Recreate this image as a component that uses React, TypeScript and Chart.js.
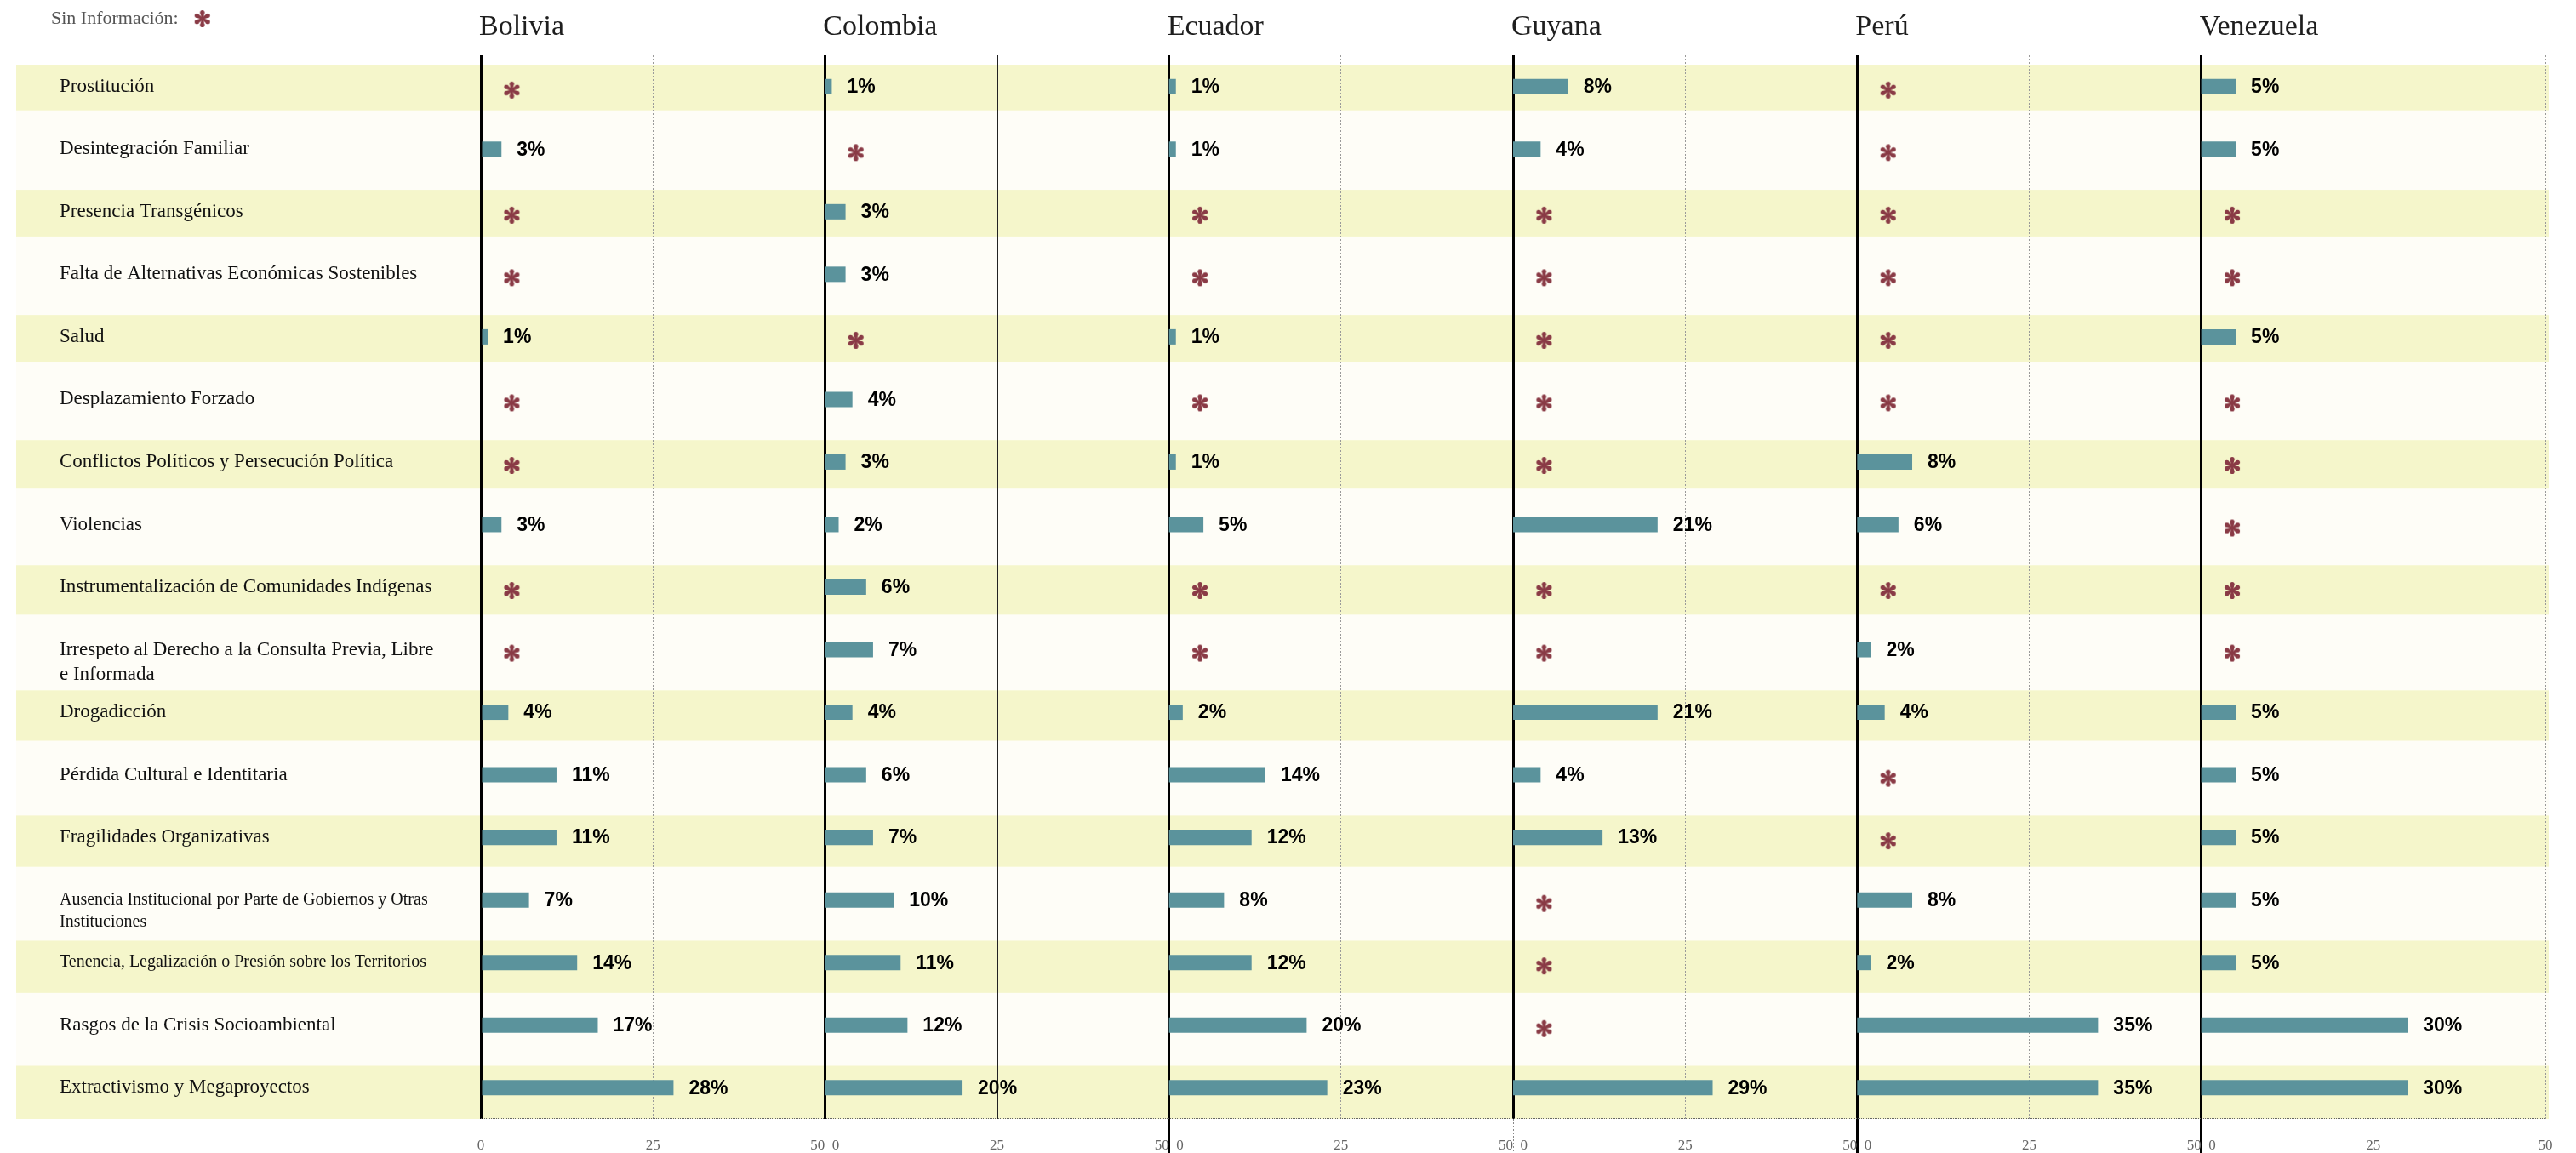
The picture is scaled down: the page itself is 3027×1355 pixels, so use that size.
import React, { useEffect, useRef } from 'react';
import { Chart, registerables } from 'chart.js';

Chart.register(...registerables);

// ---------- data ----------
const COUNTRIES = ['Bolivia', 'Colombia', 'Ecuador', 'Guyana', 'Perú', 'Venezuela'];

// multi-line labels start with an empty line so the first text line sits on the row centre
const CATEGORIES: (string | string[])[] = [
  'Prostitución',
  'Desintegración Familiar',
  'Presencia Transgénicos',
  'Falta de Alternativas Económicas Sostenibles',
  'Salud',
  'Desplazamiento Forzado',
  'Conflictos Políticos y Persecución Política',
  'Violencias',
  'Instrumentalización de Comunidades Indígenas',
  ['', 'Irrespeto al Derecho a la Consulta Previa, Libre', 'e Informada'],
  'Drogadicción',
  'Pérdida Cultural e Identitaria',
  'Fragilidades Organizativas',
  ['', 'Ausencia Institucional por Parte de Gobiernos y Otras', 'Instituciones'],
  'Tenencia, Legalización o Presión sobre los Territorios',
  'Rasgos de la Crisis Socioambiental',
  'Extractivismo y Megaproyectos',
];

// null = "Sin Información" (*)
const BOLIVIA = [null, 3, null, null, 1, null, null, 3, null, null, 4, 11, 11, 7, 14, 17, 28];
const COLOMBIA = [1, null, 3, 3, null, 4, 3, 2, 6, 7, 4, 6, 7, 10, 11, 12, 20];
const ECUADOR = [1, 1, null, null, 1, null, 1, 5, null, null, 2, 14, 12, 8, 12, 20, 23];
const GUYANA = [8, 4, null, null, null, null, null, 21, null, null, 21, 4, 13, null, null, null, 29];
const PERU = [null, null, null, null, null, null, 8, 6, null, 2, 4, null, null, 8, 2, 35, 35];
const VENEZUELA = [5, 5, null, null, 5, null, null, null, null, null, 5, 5, 5, 5, 5, 30, 30];

const SERIES: (number | null)[][] = [BOLIVIA, COLOMBIA, ECUADOR, GUYANA, PERU, VENEZUELA];

const PANEL_RANGE = 50; // each country panel spans 0..50
const TICK_STEP = 25;
const NO_INFO_MARK_AT = 4.5; // where the * sits inside a panel
const LEGEND_TEXT = 'Sin Información:';
const SMALL_FONT_ROWS = [13, 14];

// ---------- styles ----------
const SERIF = '"Liberation Serif", "DejaVu Serif", serif';
const SANS = '"Liberation Sans", Arial, sans-serif';
const BAR_COLOR = '#5B939C';
const YELLOW = '#F5F6CB';
const CREAM = '#FEFDF7';
const MARK_COLOR = '#8A3B46';

function makeAsterisk(): HTMLCanvasElement {
  const c = document.createElement('canvas');
  c.width = 26;
  c.height = 34;
  const g = c.getContext('2d')!;
  g.fillStyle = MARK_COLOR;
  const cx = 13;
  const cy = 21;
  const reach = 7.4; // centre of the rounded end
  const endR = 2.6;
  const stem = 1.0;
  for (let k = 0; k < 6; k++) {
    const a = Math.PI / 2 + (k * Math.PI) / 3;
    const dx = Math.cos(a);
    const dy = -Math.sin(a);
    const px = -dy;
    const py = dx;
    const ex = cx + dx * reach;
    const ey = cy + dy * reach;
    g.beginPath();
    g.moveTo(cx + px * stem, cy + py * stem);
    g.lineTo(ex + px * endR, ey + py * endR);
    g.lineTo(ex - px * endR, ey - py * endR);
    g.lineTo(cx - px * stem, cy - py * stem);
    g.closePath();
    g.fill();
    g.beginPath();
    g.arc(ex, ey, endR, 0, Math.PI * 2);
    g.fill();
  }
  g.beginPath();
  g.arc(cx, cy, 1.8, 0, Math.PI * 2);
  g.fill();
  return c;
}

export default function App() {
  const ref = useRef<HTMLCanvasElement>(null);

  useEffect(() => {
    const canvas = ref.current;
    if (!canvas) return;
    const star = makeAsterisk();

    const barSets = SERIES.map((vals, i) => ({
      type: 'bar' as const,
      label: COUNTRIES[i],
      data: vals.map((v) => (v == null ? null : [i * PANEL_RANGE, i * PANEL_RANGE + v])),
      backgroundColor: BAR_COLOR,
      borderWidth: 0,
      grouped: false,
      barPercentage: 0.245,
      categoryPercentage: 1,
      order: 1,
    }));

    const starSets = SERIES.map((vals, i) => ({
      type: 'line' as const,
      label: COUNTRIES[i] + ' – sin información',
      data: vals.map((v) => (v == null ? i * PANEL_RANGE + NO_INFO_MARK_AT : null)),
      showLine: false,
      pointStyle: star,
      pointRadius: 5,
      pointHoverRadius: 5,
      order: 0,
    }));

    const maxX = PANEL_RANGE * COUNTRIES.length;
    const isZero = (v: number) => v % PANEL_RANGE === 0 && v < maxX;

    const decor = {
      id: 'decor',
      beforeDraw(chart: any) {
        const { ctx, chartArea, scales } = chart;
        const y = scales.y;
        const n = CATEGORIES.length;
        const step = y.getPixelForValue(1) - y.getPixelForValue(0);
        const left = 19;
        const right = chartArea.right + 4;
        const firstTop = y.getPixelForValue(0) - 0.35 * step;
        ctx.save();
        ctx.fillStyle = CREAM;
        ctx.fillRect(left, firstTop, right - left, chartArea.bottom - firstTop);
        ctx.fillStyle = YELLOW;
        for (let j = 0; j < n; j += 2) {
          const c = y.getPixelForValue(j);
          const top = c - 0.35 * step;
          const bottom = Math.min(c + (0.38 + (0.12 * j) / (n - 1)) * step, chartArea.bottom);
          ctx.fillRect(left, top, right - left, bottom - top);
        }
        ctx.restore();
      },
      beforeDatasetsDraw(chart: any) {
        const { ctx, chartArea } = chart;
        ctx.save();
        ctx.strokeStyle = '#666';
        ctx.lineWidth = 1;
        ctx.setLineDash([1, 1]);
        ctx.beginPath();
        ctx.moveTo(chartArea.left, chartArea.bottom - 0.5);
        ctx.lineTo(chartArea.right, chartArea.bottom - 0.5);
        ctx.stroke();
        ctx.restore();
      },
      afterDatasetsDraw(chart: any) {
        const { ctx } = chart;
        ctx.save();
        ctx.fillStyle = '#000';
        ctx.font = `bold 23px ${SANS}`;
        ctx.textAlign = 'left';
        ctx.textBaseline = 'middle';
        SERIES.forEach((vals, d) => {
          const meta = chart.getDatasetMeta(d);
          meta.data.forEach((el: any, j: number) => {
            const v = vals[j];
            if (v == null) return;
            const p = el.getProps(['x', 'y'], true);
            ctx.fillText(`${v}%`, p.x + 18, p.y + 1);
          });
        });
        ctx.restore();
      },
      afterDraw(chart: any) {
        const { ctx, scales } = chart;
        const x = scales.x;
        ctx.save();
        ctx.fillStyle = '#1e1e1e';
        ctx.font = `34px ${SERIF}`;
        ctx.textAlign = 'left';
        ctx.textBaseline = 'alphabetic';
        COUNTRIES.forEach((name, i) => {
          ctx.fillText(name, x.getPixelForValue(i * PANEL_RANGE) - 2, 41);
        });
        ctx.fillStyle = '#555';
        ctx.font = `22px ${SERIF}`;
        ctx.fillText(LEGEND_TEXT, 60, 28);
        const w = ctx.measureText(LEGEND_TEXT).width;
        ctx.drawImage(star, 60 + w + 28 - star.width / 2, 18 - star.height / 2);
        ctx.restore();
      },
    };

    const chart = new Chart(canvas, {
      type: 'bar',
      data: {
        labels: CATEGORIES as any,
        datasets: [...barSets, ...starSets] as any,
      },
      options: {
        indexAxis: 'y',
        responsive: false,
        animation: false,
        devicePixelRatio: 1,
        events: [],
        layout: { padding: { left: 70, right: 36, top: 65, bottom: 0 } },
        plugins: {
          legend: { display: false },
          tooltip: { enabled: false },
        },
        scales: {
          x: {
            type: 'linear',
            min: 0,
            max: maxX,
            position: 'bottom',
            afterFit: (s: any) => {
              s.height = 40;
            },
            grid: {
              color: (c: any) => {
                const v = c.tick.value;
                if (isZero(v)) return '#000';
                if (v === PANEL_RANGE + TICK_STEP) return '#222';
                return '#9a9a9a';
              },
              lineWidth: (c: any) => {
                const v = c.tick.value;
                if (isZero(v)) return 3;
                if (v === PANEL_RANGE + TICK_STEP) return 2;
                return 1;
              },
              drawTicks: true,
              tickLength: 40,
              tickColor: (c: any) => {
                const v = c.tick.value;
                if (v === 100 || v === 200 || v === 250) return '#000';
                if (v === 50 || v === 150) return '#888';
                return 'rgba(0,0,0,0)';
              },
              tickWidth: (c: any) => {
                const v = c.tick.value;
                if (v === 100 || v === 200 || v === 250) return 3;
                return 1;
              },
              tickBorderDash: (c: any) => {
                const v = c.tick.value;
                return v === 50 || v === 150 ? [2, 2] : [];
              },
            },
            border: {
              display: false,
              dash: (c: any) => {
                const v = c.tick ? c.tick.value : 0;
                if (isZero(v) || v === PANEL_RANGE + TICK_STEP) return [];
                return [2, 2];
              },
            },
            ticks: {
              stepSize: TICK_STEP,
              autoSkip: false,
              maxRotation: 0,
              padding: -19,
              color: '#666',
              font: { family: SERIF, size: 17 },
              callback: (value: any) => {
                const v = Number(value);
                if (v === 0) return '0';
                if (v % PANEL_RANGE === TICK_STEP) return String(TICK_STEP);
                if (v === maxX) return String(PANEL_RANGE);
                return `${PANEL_RANGE}  0`;
              },
            },
          },
          y: {
            type: 'category',
            position: 'left',
            afterFit: (s: any) => {
              s.width = 495;
            },
            grid: { display: false },
            border: { display: false },
            ticks: {
              crossAlign: 'far',
              autoSkip: false,
              padding: 0,
              color: '#111',
              font: (c: any) =>
                SMALL_FONT_ROWS.includes(c.index)
                  ? { family: SERIF, size: 20, lineHeight: 1.3 }
                  : { family: SERIF, size: 23, lineHeight: 1.26 },
            },
          },
        },
      } as any,
      plugins: [decor],
    });

    return () => {
      chart.destroy();
    };
  }, []);

  return (
    <div style={{ position: 'absolute', left: 0, top: 0, width: 3027, height: 1355, background: '#fff' }}>
      <canvas ref={ref} width={3027} height={1355} style={{ display: 'block' }} />
    </div>
  );
}
